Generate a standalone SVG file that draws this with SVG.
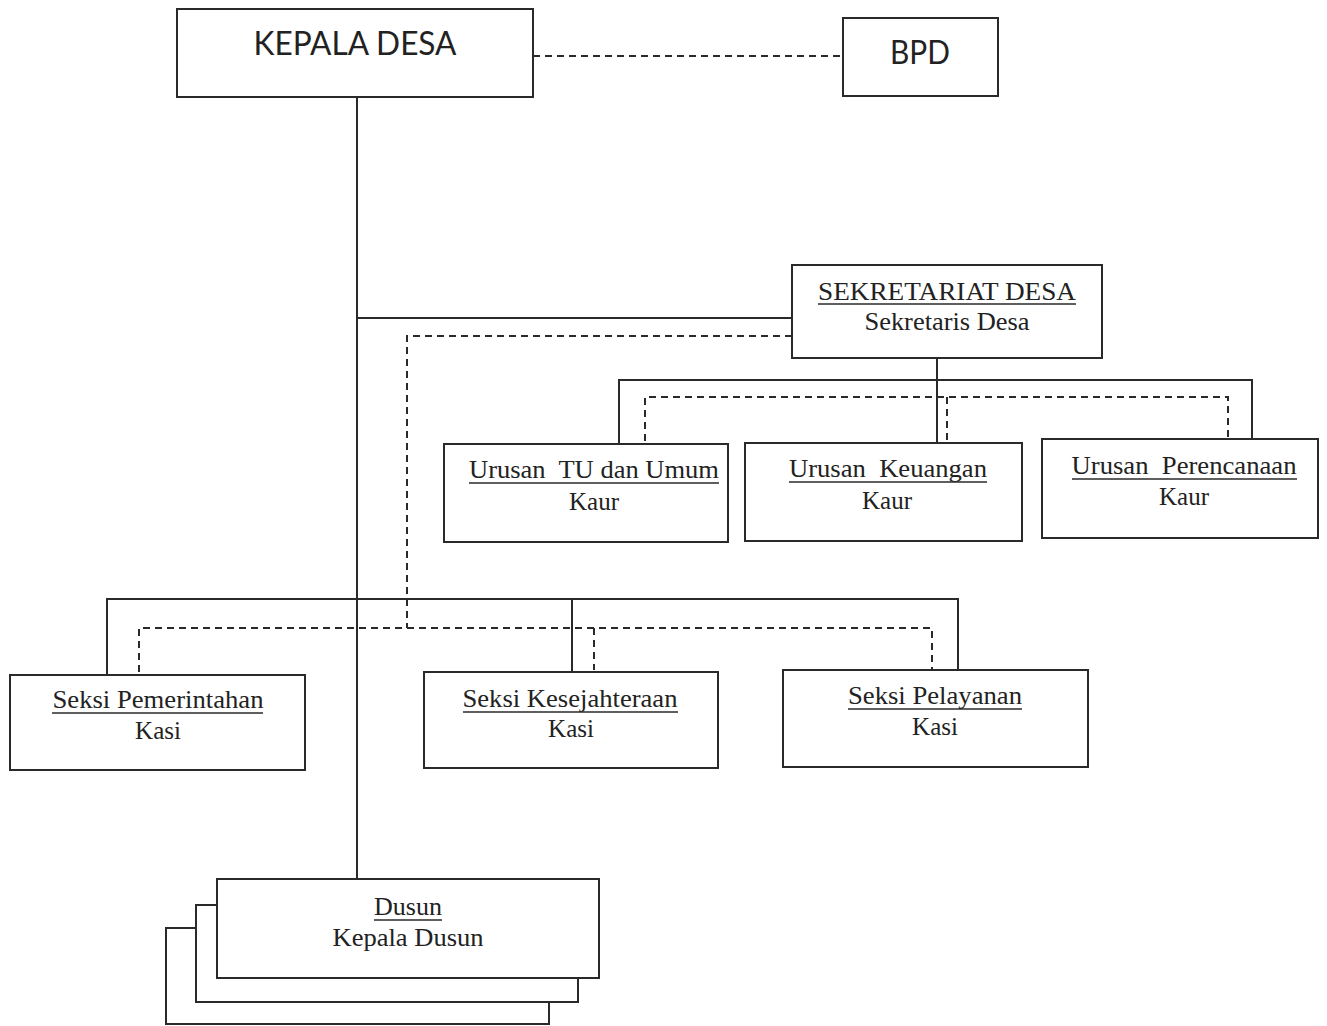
<svg xmlns="http://www.w3.org/2000/svg" width="1327" height="1026" viewBox="0 0 1327 1026">
<style>
.box{fill:#fff;stroke:#2a2a2a;stroke-width:2}
.ln{fill:none;stroke:#2a2a2a;stroke-width:2}
.dl{fill:none;stroke:#2a2a2a;stroke-width:2;stroke-dasharray:7,5}
.ul{stroke:#2a2a2a;stroke-width:1.5}
.sans{font-family:Lato,"Liberation Sans",sans-serif;font-size:32px;fill:#222;text-anchor:middle}
.ser{font-family:"Liberation Serif","Times New Roman",serif;font-size:25px;fill:#222;text-anchor:middle;white-space:pre}
</style>
<rect width="1327" height="1026" fill="#fff"/>
<g id="connectors">
<path class="dl" d="M533 56H843"/>
<path class="ln" d="M357 97V879"/>
<path class="ln" d="M357 318H792"/>
<path class="dl" d="M792 336H407V628"/>
<path class="ln" d="M937 358V443"/>
<path class="ln" d="M619 444V380H1252V439"/>
<path class="dl" d="M645 441V397H1228V438"/>
<path class="dl" d="M947 397V441"/>
<path class="ln" d="M107 675V599H958V670"/>
<path class="ln" d="M572 599V672"/>
<path class="dl" d="M139 672V628H932V670"/>
<path class="dl" d="M594 628V670"/>
</g>
<g id="kepala-desa">
<rect class="box" x="177" y="9" width="356" height="88"/>
<text class="sans" x="355" y="55" textLength="203" lengthAdjust="spacingAndGlyphs">KEPALA DESA</text>
</g>
<g id="bpd">
<rect class="box" x="843" y="18" width="155" height="78"/>
<text class="sans" x="920" y="64" textLength="60" lengthAdjust="spacingAndGlyphs">BPD</text>
</g>
<g id="sekretariat">
<rect class="box" x="792" y="265" width="310" height="93"/>
<text class="ser" x="947" y="300" textLength="258" lengthAdjust="spacingAndGlyphs">SEKRETARIAT DESA</text>
<line class="ul" x1="818" y1="304" x2="1076" y2="304"/>
<text class="ser" x="947" y="330" textLength="165" lengthAdjust="spacingAndGlyphs">Sekretaris Desa</text>
</g>
<g id="kaur-tu">
<rect class="box" x="444" y="444" width="284" height="98"/>
<text class="ser" x="594" y="478" textLength="250" lengthAdjust="spacingAndGlyphs" xml:space="preserve">Urusan  TU dan Umum</text>
<line class="ul" x1="469" y1="483" x2="719" y2="483"/>
<text class="ser" x="594" y="510">Kaur</text>
</g>
<g id="kaur-keuangan">
<rect class="box" x="745" y="443" width="277" height="98"/>
<text class="ser" x="888" y="477" textLength="198" lengthAdjust="spacingAndGlyphs" xml:space="preserve">Urusan  Keuangan</text>
<line class="ul" x1="789" y1="482" x2="987" y2="482"/>
<text class="ser" x="887" y="509">Kaur</text>
</g>
<g id="kaur-perencanaan">
<rect class="box" x="1042" y="439" width="276" height="99"/>
<text class="ser" x="1184" y="474" textLength="225" lengthAdjust="spacingAndGlyphs" xml:space="preserve">Urusan  Perencanaan</text>
<line class="ul" x1="1072" y1="479" x2="1297" y2="479"/>
<text class="ser" x="1184" y="505">Kaur</text>
</g>
<g id="seksi-pemerintahan">
<rect class="box" x="10" y="675" width="295" height="95"/>
<text class="ser" x="158" y="708" textLength="211" lengthAdjust="spacingAndGlyphs">Seksi Pemerintahan</text>
<line class="ul" x1="52" y1="713" x2="263" y2="713"/>
<text class="ser" x="158" y="739">Kasi</text>
</g>
<g id="seksi-kesejahteraan">
<rect class="box" x="424" y="672" width="294" height="96"/>
<text class="ser" x="570" y="707" textLength="215" lengthAdjust="spacingAndGlyphs">Seksi Kesejahteraan</text>
<line class="ul" x1="463" y1="712" x2="678" y2="712"/>
<text class="ser" x="571" y="737">Kasi</text>
</g>
<g id="seksi-pelayanan">
<rect class="box" x="783" y="670" width="305" height="97"/>
<text class="ser" x="935" y="704" textLength="174" lengthAdjust="spacingAndGlyphs">Seksi Pelayanan</text>
<line class="ul" x1="848" y1="709" x2="1022" y2="709"/>
<text class="ser" x="935" y="735">Kasi</text>
</g>
<g id="dusun">
<rect class="box" x="166" y="928" width="383" height="96"/>
<rect class="box" x="196" y="905" width="382" height="97"/>
<rect class="box" x="217" y="879" width="382" height="99"/>
<text class="ser" x="408" y="915" textLength="68" lengthAdjust="spacingAndGlyphs">Dusun</text>
<line class="ul" x1="374" y1="920" x2="442" y2="920"/>
<text class="ser" x="408" y="946" textLength="151" lengthAdjust="spacingAndGlyphs">Kepala Dusun</text>
</g>
</svg>
